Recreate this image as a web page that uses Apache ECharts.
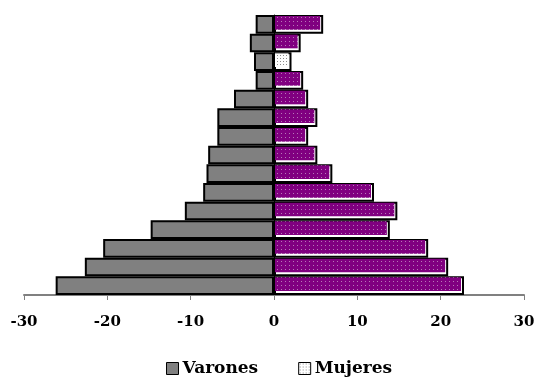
<!DOCTYPE html>
<html>
<head>
<meta charset="utf-8">
<script src="https://cdn.jsdelivr.net/npm/echarts@6/dist/echarts.min.js"></script>
<style>
  html, body { margin: 0; padding: 0; background: #fff; }
  #chart { width: 539px; height: 382px; }
</style>
</head>
<body>
<div id="chart"></div>
<script>
// Age groups, listed from the bottom of the pyramid upwards
const categories = ['0-4', '5-9', '10-14', '15-19', '20-24', '25-29', '30-34', '35-39',
                    '40-44', '45-49', '50-54', '55-59', '60-64', '65-69', '70+'];
// Men, drawn to the left of zero
const varones = [26.2, 22.7, 20.5, 14.8, 10.7, 8.5, 8.1, 7.9, 6.8, 6.8, 4.8, 2.2, 2.4, 2.9, 2.2];
// Women, drawn to the right of zero
const mujeres = [22.8, 20.9, 18.5, 13.9, 14.8, 12.0, 7.0, 5.2, 4.1, 5.2, 4.1, 3.5, 2.1, 3.2, 5.9];
const xTicks = { min: -30, max: 30, interval: 10 };
const seriesNames = ['Varones', 'Mujeres'];

// Small repeating tiles used as fill patterns
function makeTile(size, bg, dot, dots) {
  const c = document.createElement('canvas');
  c.width = size; c.height = size;
  const g = c.getContext('2d');
  g.fillStyle = bg; g.fillRect(0, 0, size, size);
  g.fillStyle = dot;
  dots.forEach(([x, y]) => g.fillRect(x, y, 1, 1));
  return { image: c, repeat: 'repeat' };
}
const purpleDots = makeTile(4, '#800080', '#b878b8', [[1, 1]]);
const greyDots = makeTile(3, '#ffffff', '#8c8c8c', [[1, 1]]);
const plainIndex = 12; // the one women's bar filled with the grey dotted pattern

const FONT = '"DejaVu Serif", "Liberation Serif", serif';

const chart = echarts.init(document.getElementById('chart'));
chart.setOption({
  animation: false,
  backgroundColor: '#ffffff',
  grid: { left: 24, right: 15, top: 15, bottom: 87 },
  legend: {
    left: 161,
    top: 355,
    itemWidth: 12,
    itemHeight: 12,
    itemGap: 40,
    icon: 'rect',
    textStyle: { fontFamily: FONT, fontWeight: 'bold', fontSize: 17, color: '#000', padding: [0, 0, 0, -1] },
    data: [
      { name: seriesNames[0], itemStyle: { color: '#808080', borderColor: '#000', borderWidth: 1 } },
      { name: seriesNames[1], itemStyle: { color: greyDots, borderColor: '#000', borderWidth: 1 } }
    ]
  },
  xAxis: {
    type: 'value',
    min: xTicks.min,
    max: xTicks.max,
    interval: xTicks.interval,
    splitLine: { show: false },
    axisLine: { show: true, onZero: false, lineStyle: { color: '#808080', width: 2 } },
    axisTick: { show: true, length: 5, lineStyle: { color: '#808080', width: 1 } },
    axisLabel: { fontFamily: FONT, fontWeight: 'bold', fontSize: 15, color: '#000', margin: 20 }
  },
  yAxis: {
    type: 'category',
    data: categories,
    axisLine: { show: true, onZero: true, lineStyle: { color: '#000', width: 1 } },
    axisTick: { show: false },
    axisLabel: { show: false },
    splitLine: { show: false }
  },
  series: [
    {
      name: seriesNames[0],
      type: 'bar',
      data: varones.map(v => -v),
      barCategoryGap: '0%',
      barGap: '-100%',
      itemStyle: { color: '#808080', borderColor: '#000', borderWidth: 2 },
      z: 2
    },
    {
      name: seriesNames[1],
      type: 'bar',
      data: mujeres,
      barCategoryGap: '0%',
      barGap: '-100%',
      itemStyle: { color: '#ffffff', borderColor: '#000', borderWidth: 2 },
      z: 2
    },
    {
      // patterned fill inside each women's bar, slightly inset from the outline
      name: 'relleno',
      type: 'custom',
      data: mujeres.map((v, i) => [v, i]),
      encode: { x: 0, y: 1 },
      z: 3,
      silent: true,
      renderItem: function (params, api) {
        const v = api.value(0);
        const i = api.value(1);
        const p0 = api.coord([0, i]);
        const p1 = api.coord([v, i]);
        const h = api.size([0, 1])[1];
        const top = p0[1] - h / 2;
        return {
          type: 'rect',
          shape: { x: p0[0] + 1, y: top + 1, width: p1[0] - p0[0] - 4, height: h - 5 },
          style: { fill: i === plainIndex ? greyDots : purpleDots }
        };
      }
    }
  ]
});
</script>
</body>
</html>
